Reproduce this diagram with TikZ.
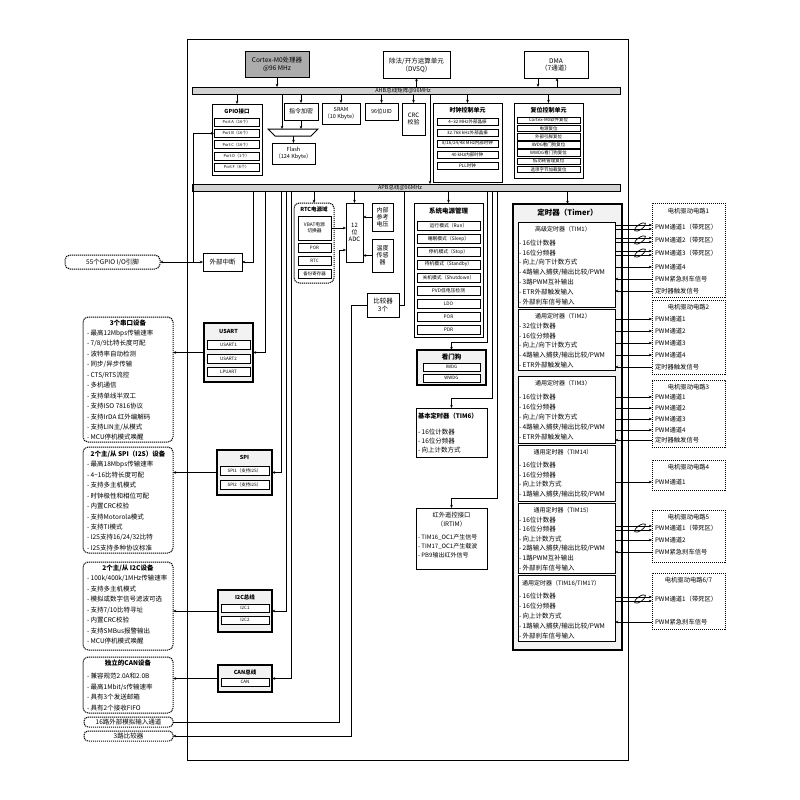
\documentclass[tikz,border=0pt]{standalone}
\usepackage{fontspec}
\setmainfont{Noto Sans CJK SC}
\usetikzlibrary{arrows.meta,shapes.geometric,calc}
\newcommand\fsz[1]{\fontsize{#1}{\fpeval{#1*1.2}}\selectfont}
\newcommand\mkbox[7][]{\node[#1,minimum width={((#5)-(#3))*1pt},minimum height={((#6)-(#4))*1pt}] (#2) at ({((#3)+(#5))/2},{((#4)+(#6))/2}) {#7};}
\newcommand\pairline[3]{%
 \draw[arr] ($(#1.east |- #3.west)+(0,-2)$) -- ($(#2.west |- #3.west)+(0,-2)$);
 \draw[arr] ($(#1.east |- #3.west)+(0,2)$) -- ($(#2.west |- #3.west)+(0,2)$);
 \node[draw,ellipse,line width=0.7pt,minimum width=13pt,minimum height=5pt,inner sep=0pt,rotate=35] (el#3) at ($(#2.west |- #3.west)+(-12,0)$) {};}
\newcommand\fwdline[3]{\draw[arr] (#1.east |- #3.west) -- (#2.west |- #3.west);}
\newcommand\bwdline[3]{\draw[arr] (#2.west |- #3.west) -- (#1.east |- #3.west);}
\tikzset{
 base/.style={inner sep=0pt,outer sep=0pt,align=center,line width=1pt},
 box/.style={base,draw,fill=white},
 gbox/.style={base,draw,fill=gray!65},
 ghost/.style={base,draw,fill=gray!10,line width=1.2pt},
 sub/.style={base,draw,fill=white,line width=0.8pt},
 dbox/.style={base,draw,fill=white,dash pattern=on 1.2pt off 0.8pt,line width=1pt,rounded corners=5pt},
 ddrv/.style={base,draw,fill=white,dash pattern=on 1.2pt off 0.8pt,line width=1pt},
 bus/.style={base,draw,fill=gray!35,line width=0.8pt},
 txt/.style={inner sep=0pt,outer sep=0pt},
 itm/.style={txt,anchor=west,font=\fsz{6.5}},
 dtx/.style={txt,anchor=west,font=\fsz{6.3}},
 arr/.style={-{Stealth[length=3.2pt,width=2.6pt]},line width=0.75pt},
 ln/.style={line width=0.75pt},
}
\begin{document}
\begin{tikzpicture}[x=1pt,y=-1pt]
\useasboundingbox (0,0) rectangle (800,800);
\fill[white] (0,0) rectangle (800,800);
\mkbox[base,draw,line width=1pt]{frame}{187}{40}{628}{760}{}
% ---------- top ----------
\mkbox[gbox,font=\fsz{6.5}]{cpu}{245}{52}{309}{77}{Cortex-M0处理器\\@96 MHz}
\mkbox[box,font=\fsz{6.5}]{dvsq}{383}{52}{450}{78}{除法/开方运算单元\\（DVSQ）}
\mkbox[box,font=\fsz{6.5}]{dma}{524}{52}{588}{78}{DMA\\（7通道）}
\mkbox[bus]{ahb}{192}{87}{620}{94}{}
\node[txt,font=\fsz{5.5}] (ahbl) at (403,90.5) {AHB总线矩阵@96MHz};
\mkbox[bus]{apb}{192}{184}{620}{191}{}
\node[txt,font=\fsz{5.5}] (apbl) at (400,187.5) {APB总线@96MHz};
\draw[arr] (cpu.south) -- (cpu.south |- ahb.north);
\draw[arr] (ahb.north -| dvsq.south) -- (dvsq.south);
\coordinate (dmaA) at (538,78);
\coordinate (dmaB) at (557,78);
\draw[arr] (dmaA) -- (dmaA |- ahb.north);
\draw[arr] (dmaB |- ahb.north) -- (dmaB);
% GPIO
\mkbox[box]{gpio}{212}{104}{262}{175}{}
\node[txt,font=\fsz{5.5}\bfseries] (gpiot) at (237,111) {GPIO接口};
\foreach \pp/\nn [count=\i from 0] in {A/16,B/16,C/16,D/1,F/6}
 \mkbox[sub,font=\fsz{4}]{port\pp}{214}{118+11.3*\i}{259}{126+11.3*\i}{Port \pp（\nn 个）};
\draw[arr] (ahb.south -| gpio.north) -- (gpio.north);
% flash path
\mkbox[box,font=\fsz{6}]{enc}{284}{103}{318}{120}{指令加密}
\coordinate (muxtl) at (268,129);
\coordinate (muxtr) at (318,129);
\coordinate (muxbr) at (311,136);
\coordinate (muxbl) at (275,136);
\draw[fill=white,line width=1pt] (muxtl) -- (muxtr) -- (muxbr) -- (muxbl) -- cycle;
\coordinate (muxin1) at (282,129);
\coordinate (muxin2) at (301,129);
\coordinate (muxout) at (293.5,136);
\mkbox[box,font=\fsz{5.5}]{flash}{272}{143}{315}{164}{Flash\\（124 Kbyte）}
\draw[arr] (ahb.south -| muxin1) -- (muxin1);
\draw[arr] (ahb.south -| enc.north) -- (enc.north);
\draw[arr] (enc.south) -- (muxin2);
\draw[arr] (muxout) -- (flash.north);
\mkbox[box,font=\fsz{5.5}]{sram}{322}{103}{360}{124}{SRAM\\（10 Kbyte）}
\mkbox[box,font=\fsz{5.5}]{uid}{365}{103}{398}{120}{96位UID}
\mkbox[box,font=\fsz{6}]{crc}{402}{103}{425}{135}{CRC\\校验}
\draw[arr] (ahb.south -| sram.north) -- (sram.north);
\draw[arr] (ahb.south -| uid.north) -- (uid.north);
\draw[arr] (ahb.south -| crc.north) -- (crc.north);
\coordinate (bridge) at (430,94);
\draw[arr] (bridge) -- (bridge |- apb.north);
% clock
\mkbox[box]{clk}{433}{103}{502}{182}{}
\node[txt,font=\fsz{6}\bfseries] (clkt) at (467.5,110.5) {时钟控制单元};
\foreach \t [count=\i from 0] in {4\textasciitilde 32 MHz外部晶振, 32.768 kHz外部晶振, 8/16/24/48 MHz内部时钟, 40 kHz内部时钟, PLL时钟}
 \mkbox[sub,font=\fsz{4.5}]{clk\i}{437}{118+11*\i}{498}{125+11*\i}{\t};
\draw[arr] (ahb.south -| clk.north) -- (clk.north);
% reset
\mkbox[box]{rst}{514}{103}{583}{178}{}
\node[txt,font=\fsz{6}\bfseries] (rstt) at (548.5,110.5) {复位控制单元};
\foreach \t [count=\i from 0] in {Cortex-M0软件复位, 电源复位, 外部引脚复位, IWDG看门狗复位, WWDG看门狗复位, 低功耗管理复位, 选项字节加载复位}
 \mkbox[sub,font=\fsz{4.5}]{rst\i}{517}{117+8.2*\i}{580}{123.5+8.2*\i}{\t};
\draw[arr] (ahb.south -| rst.north) -- (rst.north);
% ---------- left of APB ----------
\coordinate (gj) at (193,262);
\mkbox[box,font=\fsz{6.5}]{ext}{203}{253}{242}{271}{外部中断}
\mkbox[dbox,font=\fsz{6.5}]{pins}{65}{255}{160}{269}{55个GPIO I/O引脚}
\draw[arr] (gj) |- (portB.west);
\draw[arr] (gj) -- (pins.east);
\draw[arr] (gj) -- (ext.west);
\draw[arr] (apb.south -| 253,0) |- (ext.east);
% USART SPI I2C CAN
\mkbox[ghost]{usart}{204}{323}{253}{382}{}
\node[txt,font=\fsz{5.5}\bfseries] (usartt) at (228.5,331) {USART};
\foreach \t/\y [count=\i] in {USART1/340, USART2/354, LPUART/367}
 \mkbox[sub,font=\fsz{4.5}]{us\i}{207}{\y}{250}{\y+9}{\t};
\mkbox[ghost]{spi}{217}{450}{272}{495}{}
\node[txt,font=\fsz{5.5}\bfseries] (spit) at (244.5,457) {SPI};
\mkbox[sub,font=\fsz{4.5}]{spi1}{220}{466}{269}{475}{SPI1（支持I2S）}
\mkbox[sub,font=\fsz{4.5}]{spi2}{220}{480}{269}{489}{SPI2（支持I2S）}
\mkbox[ghost]{i2c}{218}{590}{272}{632}{}
\node[txt,font=\fsz{5.5}\bfseries] (i2ct) at (245,597) {I2C总线};
\mkbox[sub,font=\fsz{4.5}]{i2c1}{221}{604}{269}{612}{I2C1}
\mkbox[sub,font=\fsz{4.5}]{i2c2}{221}{616}{269}{624}{I2C2}
\mkbox[ghost]{can}{218}{665}{272}{692}{}
\node[txt,font=\fsz{5.5}\bfseries] (cant) at (245,672) {CAN总线};
\mkbox[sub,font=\fsz{4.5}]{can1}{221}{678}{269}{686}{CAN}
\draw[arr] (apb.south -| 265,0) |- (usart.east);
\draw[arr] (apb.south -| 281,0) |- (spi.east);
\draw[arr] (apb.south -| 286,0) |- (i2c.east);
\draw[arr] (apb.south -| 291,0) |- (can.east);
% lists
\mkbox[dbox]{usartl}{83}{317}{173}{442}{}
\node[txt,font=\fsz{6.5}\bfseries] (usartlt) at (128,323) {3个串口设备};
\foreach \t [count=\i] in {最高12Mbps传输速率, 7/8/9比特长度可配, 波特率自动检测, 同步/异步传输, CTS/RTS流控, 多机通信, 支持单线半双工, 支持ISO 7816协议, 支持IrDA 红外编解码, 支持LIN主/从模式, MCU停机模式唤醒}
 \node[itm] (usartl\i) at (87,{323+10.4*\i}) {- \t};
\mkbox[dbox]{spil}{83}{447}{173}{553}{}
\node[txt,font=\fsz{6.5}\bfseries] (spilt) at (128,454) {2个主/从 SPI（I2S）设备};
\foreach \t [count=\i] in {最高18Mbps传输速率, 4\textasciitilde 16比特长度可配, 支持多主机模式, 时钟极性和相位可配, 内置CRC校验, 支持Motorola模式, 支持TI模式, I2S支持16/24/32比特, I2S支持多种协议标准}
 \node[itm] (spil\i) at (87,{454+10.45*\i}) {- \t};
\mkbox[dbox]{i2cl}{83}{562}{173}{650}{}
\node[txt,font=\fsz{6.5}\bfseries] (i2clt) at (128,568) {2个主/从 I2C设备};
\foreach \t [count=\i] in {100k/400k/1MHz传输速率, 支持多主机模式, 模拟或数字信号滤波可选, 支持7/10比特寻址, 内置CRC校验, 支持SMBus报警输出, MCU停机模式唤醒}
 \node[itm] (i2cl\i) at (87,{568+10.5*\i}) {- \t};
\mkbox[dbox]{canl}{83}{657}{173}{713}{}
\node[txt,font=\fsz{6.5}\bfseries] (canlt) at (128,663) {独立的CAN设备};
\foreach \t [count=\i] in {兼容规范2.0A和2.0B, 最高1Mbit/s传输速率, 具有3个发送邮箱, 具有2个接收FIFO}
 \node[itm] (canl\i) at (87,{666+10.5*\i}) {- \t};
\mkbox[dbox,rounded corners=4pt,font=\fsz{6.5}]{ana}{84}{717}{173}{727}{16路外部模拟输入通道}
\mkbox[dbox,rounded corners=4pt,font=\fsz{6.5}]{cmpl}{84}{731}{173}{741}{3路比较器}
\draw[arr] (usart.west) -- (usart.west -| usartl.east);
\draw[arr] (spi.west) -- (spi.west -| spil.east);
\draw[arr] (i2c.west) -- (i2c.west -| i2cl.east);
\draw[arr] (can.west) -- (can.west -| canl.east);
% RTC, ADC, comparator
\mkbox[dbox]{rtcd}{294}{203}{334}{283}{}
\node[txt,font=\fsz{5.5}\bfseries] (rtct) at (314,209.5) {RTC电源域};
\mkbox[sub,font=\fsz{4.8}]{vbat}{298}{216}{331}{240}{VBAT电源\\切换器}
\mkbox[sub,font=\fsz{4.5}]{por}{298}{243}{331}{252}{POR}
\mkbox[sub,font=\fsz{4.5}]{rtc}{298}{256}{331}{265}{RTC}
\mkbox[sub,font=\fsz{4.5}]{bkp}{298}{269}{331}{278}{备份寄存器}
\draw[arr] (apb.south -| rtcd.north) -- (rtcd.north);
\mkbox[box,font=\fsz{6}]{adc}{346}{203}{363}{262}{12\\位\\ADC}
\mkbox[box,font=\fsz{6}]{vref}{372}{203}{393}{231}{内部\\参考\\电压}
\mkbox[box,font=\fsz{6}]{temp}{372}{239}{393}{272}{温度\\传感\\器}
\draw[arr] (apb.south -| adc.north) -- (adc.north);
\draw[arr] (vref.west) -- (vref.west -| adc.east);
\draw[arr] (temp.west) -- (temp.west -| adc.east);
\draw[arr] (vbat.east) -- (vbat.east -| adc.west);
\coordinate (adcin) at (346,250);
\coordinate (anabend) at (ana.east -| 339,0);
\draw[arr] (ana.east) -- (anabend) |- (adcin);
\mkbox[box,font=\fsz{6.5}]{cmp}{367}{293}{399}{317}{比较器\\3个}
\draw[ln] (apb.south -| 404,0) |- (cmp.east);
\coordinate (cmpbend) at (cmpl.east -| 351,0);
\draw[arr] (cmp.west) -| (cmpbend) -- (cmpl.east);
% power, watchdog, TIM6, IRTIM
\mkbox[box]{pwr}{414}{203}{483}{337}{}
\node[txt,font=\fsz{6.5}\bfseries] (pwrt) at (448.5,211) {系统电源管理};
\foreach \t [count=\i from 0] in {运行模式（Run）, 睡眠模式（Sleep）, 停机模式（Stop）, 待机模式（Standby）, 关机模式（Shutdown）, PVD低电压检测, LDO, POR, PDR}
 \mkbox[sub,font=\fsz{4.8}]{pw\i}{417}{221+13*\i}{480}{230+13*\i}{\t};
\draw[arr] (apb.south -| pwr.north) -- (pwr.north);
\mkbox[ghost]{wdg}{417}{350}{486}{385}{}
\node[txt,font=\fsz{6.5}\bfseries] (wdgt) at (451.5,357) {看门狗};
\mkbox[sub,font=\fsz{4.5}]{iwdg}{423}{363}{480}{371}{IWDG}
\mkbox[sub,font=\fsz{4.5}]{wwdg}{423}{374}{480}{382}{WWDG}
\draw[arr] (apb.south -| 487,0) -- (487,342) -| (wdg.north);
\mkbox[box]{tim6}{416}{408}{487}{457}{}
\node[txt,anchor=west,font=\fsz{6.3}\bfseries] (tim6t) at (418,416) {基本定时器（TIM6）};
\foreach \t [count=\i] in {16位计数器, 16位分频器, 向上计数方式}
 \node[itm] (tim6i\i) at (418,{423+9*\i}) {- \t};
\draw[arr] (apb.south -| 492,0) -- (492,398) -| (tim6.north);
\mkbox[box]{irtim}{416}{508}{487}{569}{}
\node[txt,font=\fsz{6.3}] (irt1) at (451.5,515) {红外遥控接口};
\node[txt,font=\fsz{6.3}] (irt2) at (451.5,524) {（IRTIM）};
\foreach \t [count=\i] in {TIM16\_OC1产生信号, TIM17\_OC1产生载波, PB9输出红外信号}
 \node[itm,font=\fsz{6}] (irti\i) at (418,{528+9*\i}) {- \t};
\draw[arr] (apb.south -| 497,0) -- (497,498) -| (irtim.north);
% ---------- timers ----------
\mkbox[ghost]{timer}{513}{204}{622}{650}{}
\node[txt,font=\fsz{7.5}\bfseries] (timert) at (567.5,213) {定时器（Timer）};
\draw[arr] (apb.south -| timer.north) -- (timer.north);
\mkbox[sub,line width=1pt]{tim1}{518}{222}{615}{307}{}
\node[txt,font=\fsz{6}] (tim1t) at (563,229) {高级定时器（TIM1）};
\foreach \t [count=\i] in {16位计数器, 16位分频器, 向上/向下计数方式, 4路输入捕获/输出比较/PWM, 3路PWM互补输出, ETR外部触发输入, 外部刹车信号输入}
 \node[itm] (tim1i\i) at (519,{233+9.9*\i}) {- \t};
\mkbox[sub,line width=1pt]{tim2}{518}{309}{615}{370}{}
\node[txt,font=\fsz{6}] (tim2t) at (563,316) {通用定时器（TIM2）};
\foreach \t [count=\i] in {32位计数器, 16位分频器, 向上/向下计数方式, 4路输入捕获/输出比较/PWM, ETR外部触发输入}
 \node[itm] (tim2i\i) at (519,{316+9.8*\i}) {- \t};
\mkbox[sub,line width=1pt]{tim3}{518}{376}{615}{443}{}
\node[txt,font=\fsz{6}] (tim3t) at (563,383) {通用定时器（TIM3）};
\foreach \t [count=\i] in {16位计数器, 16位分频器, 向上/向下计数方式, 4路输入捕获/输出比较/PWM, ETR外部触发输入}
 \node[itm] (tim3i\i) at (519,{387+10*\i}) {- \t};
\mkbox[sub,line width=1pt]{tim14}{518}{445}{615}{501}{}
\node[txt,font=\fsz{6}] (tim14t) at (563,452) {通用定时器（TIM14）};
\foreach \t [count=\i] in {16位计数器, 16位分频器, 向上计数方式, 1路输入捕获/输出比较/PWM}
 \node[itm] (tim14i\i) at (519,{455+9.8*\i}) {- \t};
\mkbox[sub,line width=1pt]{tim15}{518}{503}{615}{573}{}
\node[txt,font=\fsz{6}] (tim15t) at (563,510) {通用定时器（TIM15）};
\foreach \t [count=\i] in {16位计数器, 16位分频器, 向上计数方式, 2路输入捕获/输出比较/PWM, 1路PWM互补输出, 外部刹车信号输入}
 \node[itm] (tim15i\i) at (519,{510+9.7*\i}) {- \t};
\mkbox[sub,line width=1pt]{tim16}{518}{575}{615}{641}{}
\node[txt,anchor=west,font=\fsz{6}] (tim16t) at (522,583) {通用定时器（TIM16/TIM17）};
\foreach \t [count=\i] in {16位计数器, 16位分频器, 向上计数方式, 1路输入捕获/输出比较/PWM, 外部刹车信号输入}
 \node[itm] (tim16i\i) at (519,{586+10*\i}) {- \t};
% ---------- motor drivers ----------
\mkbox[ddrv]{m1}{652}{203}{725}{297}{}
\node[txt,font=\fsz{6.3}] (m1t) at (688.5,211) {电机驱动电路1};
\node[dtx] (m1a) at (655,227) {PWM通道1（带死区）};
\node[dtx] (m1b) at (655,240) {PWM通道2（带死区）};
\node[dtx] (m1c) at (655,253) {PWM通道3（带死区）};
\node[dtx] (m1d) at (655,267) {PWM通道4};
\node[dtx] (m1e) at (655,279) {PWM紧急刹车信号};
\node[dtx] (m1f) at (655,291) {定时器触发信号};
\mkbox[ddrv]{m2}{652}{300}{725}{374}{}
\node[txt,font=\fsz{6.3}] (m2t) at (688.5,307) {电机驱动电路2};
\node[dtx] (m2a) at (655,319) {PWM通道1};
\node[dtx] (m2b) at (655,331) {PWM通道2};
\node[dtx] (m2c) at (655,343) {PWM通道3};
\node[dtx] (m2d) at (655,355) {PWM通道4};
\node[dtx] (m2e) at (655,367) {定时器触发信号};
\mkbox[ddrv]{m3}{652}{380}{725}{447}{}
\node[txt,font=\fsz{6.3}] (m3t) at (688.5,387) {电机驱动电路3};
\node[dtx] (m3a) at (655,397) {PWM通道1};
\node[dtx] (m3b) at (655,408) {PWM通道2};
\node[dtx] (m3c) at (655,419) {PWM通道3};
\node[dtx] (m3d) at (655,430) {PWM通道4};
\node[dtx] (m3e) at (655,440) {定时器触发信号};
\mkbox[ddrv]{m4}{652}{460}{725}{490}{}
\node[txt,font=\fsz{6.3}] (m4t) at (688.5,467) {电机驱动电路4};
\node[dtx] (m4a) at (655,482) {PWM通道1};
\mkbox[ddrv]{m5}{652}{510}{725}{562}{}
\node[txt,font=\fsz{6.3}] (m5t) at (688.5,517) {电机驱动电路5};
\node[dtx] (m5a) at (655,528) {PWM通道1（带死区）};
\node[dtx] (m5b) at (655,540) {PWM通道2};
\node[dtx] (m5c) at (655,552) {PWM紧急刹车信号};
\mkbox[ddrv]{m6}{652}{573}{725}{629}{}
\node[txt,font=\fsz{6.3}] (m6t) at (688.5,580) {电机驱动电路6/7};
\node[dtx] (m6a) at (655,599) {PWM通道1（带死区）};
\node[dtx] (m6b) at (655,622) {PWM紧急刹车信号};
% connectors timers -> drivers
\pairline{tim1}{m1}{m1a}
\pairline{tim1}{m1}{m1b}
\pairline{tim1}{m1}{m1c}
\fwdline{tim1}{m1}{m1d}
\bwdline{tim1}{m1}{m1e}
\bwdline{tim1}{m1}{m1f}
\fwdline{tim2}{m2}{m2a}
\fwdline{tim2}{m2}{m2b}
\fwdline{tim2}{m2}{m2c}
\fwdline{tim2}{m2}{m2d}
\bwdline{tim2}{m2}{m2e}
\fwdline{tim3}{m3}{m3a}
\fwdline{tim3}{m3}{m3b}
\fwdline{tim3}{m3}{m3c}
\fwdline{tim3}{m3}{m3d}
\bwdline{tim3}{m3}{m3e}
\fwdline{tim14}{m4}{m4a}
\pairline{tim15}{m5}{m5a}
\fwdline{tim15}{m5}{m5b}
\bwdline{tim15}{m5}{m5c}
\pairline{tim16}{m6}{m6a}
\bwdline{tim16}{m6}{m6b}
\end{tikzpicture}
\end{document}
